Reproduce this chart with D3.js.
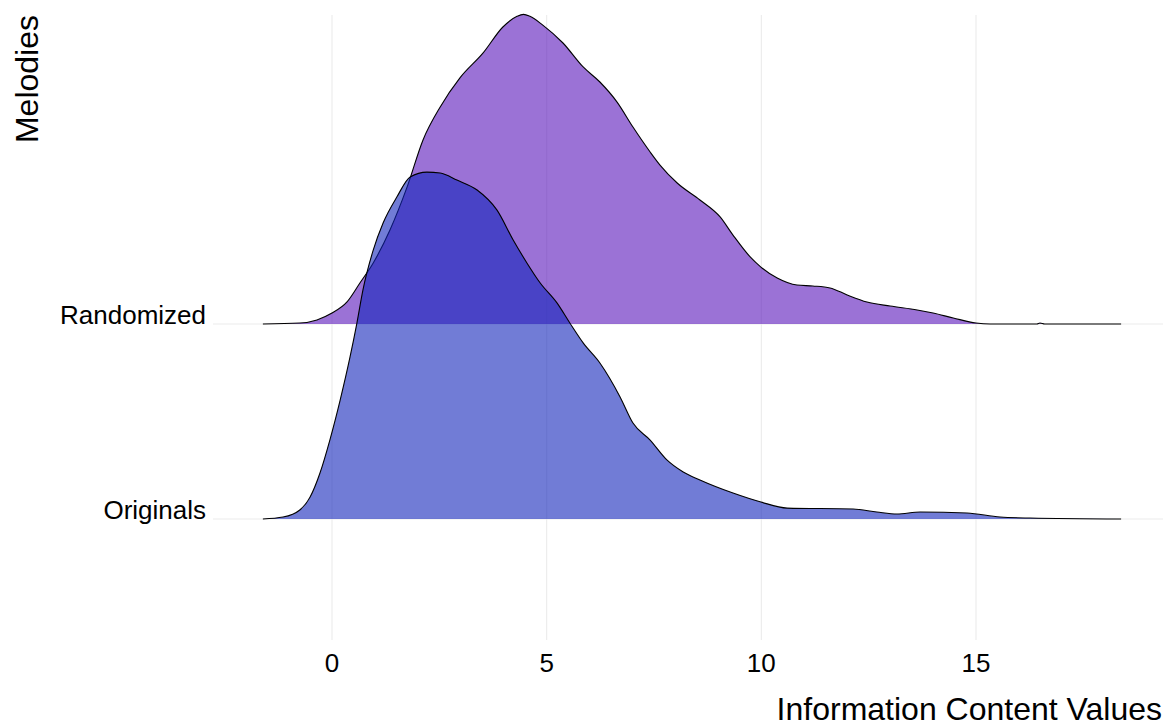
<!DOCTYPE html>
<html>
	<head>
		<meta charset="utf-8">
		<script src="https://cdnjs.cloudflare.com/ajax/libs/d3/7.8.5/d3.min.js"></script>
		<title>Melodies ridgeline</title>
	</head>

	<style>
		body {
			margin: 0;
			background-color: #fff;
		}

		text {
			font-family: "Liberation Sans", Arial, sans-serif;
			fill: #000;
		}

		.grid {
			stroke: #ebebeb;
			stroke-width: 1.1px;
		}

		.ridge-line {
			fill: none;
			stroke: #000;
			stroke-width: 1.1px;
			stroke-linejoin: round;
		}
	</style>

	<body>
		<svg></svg>
	</body>

	<script type="text/javascript">
		// rows, top to bottom
		var rows = [ 'Randomized', 'Originals' ];
		var xTicks = [ 0, 5, 10, 15 ];

		// density curves (height in row spacings)
		var randomizedX = [ -1.61, -0.75, -0.35, 0, 0.35, 0.65, 0.96, 1.35, 1.75, 2.12, 2.52, 2.98, 3.52, 3.98, 4.31, 4.46, 4.61, 4.91, 5.38, 5.85, 6.24, 6.64, 7.01, 7.41, 7.64, 8.04, 8.57, 9.04, 9.34, 9.74, 9.99, 10.37, 10.83, 11.2, 11.6, 12.0, 12.46, 13.0, 13.63, 14.0, 14.47, 15.0, 15.33, 16.42, 16.49, 16.6, 18.38 ];
		var randomizedDensity = [ 0, 0.005, 0.021, 0.056, 0.113, 0.21, 0.313, 0.482, 0.703, 0.944, 1.113, 1.262, 1.39, 1.523, 1.578, 1.588, 1.578, 1.533, 1.441, 1.318, 1.241, 1.138, 1.01, 0.882, 0.815, 0.723, 0.636, 0.549, 0.456, 0.344, 0.292, 0.236, 0.2, 0.195, 0.185, 0.149, 0.113, 0.092, 0.072, 0.056, 0.031, 0.005, 0, 0, 0.005, 0, 0 ];

		var originalsX = [ -1.61, -1.14, -0.75, -0.51, -0.28, -0.05, 0.19, 0.42, 0.58, 0.72, 0.96, 1.19, 1.51, 1.82, 2.21, 2.52, 2.91, 3.38, 3.84, 4.22, 4.54, 4.85, 5.24, 5.54, 5.85, 6.24, 6.71, 7.01, 7.41, 7.8, 8.18, 8.57, 9.34, 9.99, 10.6, 12.14, 12.69, 13.16, 13.7, 14.79, 15.56, 16.26, 18.38 ];
		var originalsDensity = [ 0, 0.01, 0.046, 0.113, 0.236, 0.405, 0.61, 0.831, 1.005, 1.174, 1.379, 1.518, 1.651, 1.754, 1.779, 1.774, 1.738, 1.687, 1.585, 1.431, 1.313, 1.21, 1.108, 1.005, 0.903, 0.8, 0.626, 0.492, 0.405, 0.303, 0.241, 0.2, 0.133, 0.087, 0.056, 0.051, 0.036, 0.026, 0.036, 0.031, 0.01, 0.005, 0 ];

		var fills = { 'Randomized': 'rgb(88, 20, 187)', 'Originals': 'rgb(18, 37, 187)' };

		var width = 1173;
		var height = 728;
		var panel = { left: 213, right: 1163, top: 15, bottom: 640 };

		var svg = d3.select( 'svg' )
			.attr( 'width', width )
			.attr( 'height', height );

		var x = d3.scaleLinear()
			.domain( [ 0, 15 ] )
			.range( [ 332, 976 ] );

		var y = d3.scalePoint()
			.domain( rows )
			.range( [ 324, 519 ] );

		var h = d3.scaleLinear()
			.domain( [ 0, 1 ] )
			.range( [ 0, y.step() ] );

		// grid
		svg.selectAll( '.vgrid' )
			.data( xTicks )
			.enter().append( 'line' )
				.attr( 'class', 'grid' )
				.attr( 'x1', function( d ) { return x( d ); } )
				.attr( 'x2', function( d ) { return x( d ); } )
				.attr( 'y1', panel.top )
				.attr( 'y2', panel.bottom );

		svg.selectAll( '.hgrid' )
			.data( rows )
			.enter().append( 'line' )
				.attr( 'class', 'grid' )
				.attr( 'x1', panel.left )
				.attr( 'x2', panel.right )
				.attr( 'y1', function( d ) { return y( d ); } )
				.attr( 'y2', function( d ) { return y( d ); } );

		var series = [
			{ name: 'Randomized', xs: randomizedX, ds: randomizedDensity },
			{ name: 'Originals', xs: originalsX, ds: originalsDensity }
		];

		series.forEach( function( s ) {
			var pts = s.xs.map( function( v, i ) { return [ v, s.ds[i] ]; } );
			var base = y( s.name );

			var area = d3.area()
				.curve( d3.curveMonotoneX )
				.x( function( d ) { return x( d[0] ); } )
				.y0( base )
				.y1( function( d ) { return base - h( d[1] ); } );

			var line = d3.line()
				.curve( d3.curveMonotoneX )
				.x( function( d ) { return x( d[0] ); } )
				.y( function( d ) { return base - h( d[1] ); } );

			var g = svg.append( 'g' ).attr( 'class', 'ridge' );
			g.append( 'path' )
				.datum( pts )
				.attr( 'd', area )
				.attr( 'fill', fills[s.name] )
				.attr( 'fill-opacity', 0.6 );
			g.append( 'path' )
				.datum( pts )
				.attr( 'class', 'ridge-line' )
				.attr( 'd', line );
		} );

		// axis labels
		svg.selectAll( '.ylab' )
			.data( rows )
			.enter().append( 'text' )
				.attr( 'x', 206 )
				.attr( 'y', function( d ) { return y( d ); } )
				.attr( 'text-anchor', 'end' )
				.style( 'font-size', '26px' )
				.text( function( d ) { return d; } );

		svg.selectAll( '.xlab' )
			.data( xTicks )
			.enter().append( 'text' )
				.attr( 'x', function( d ) { return x( d ); } )
				.attr( 'y', 672 )
				.attr( 'text-anchor', 'middle' )
				.style( 'font-size', '26px' )
				.text( function( d ) { return d; } );

		svg.append( 'text' )
			.attr( 'x', 1162 )
			.attr( 'y', 720 )
			.attr( 'text-anchor', 'end' )
			.style( 'font-size', '32px' )
			.text( 'Information Content Values' );

		svg.append( 'text' )
			.attr( 'transform', 'translate(38,15) rotate(-90)' )
			.attr( 'text-anchor', 'end' )
			.style( 'font-size', '32px' )
			.text( 'Melodies' );
	</script>
</html>
